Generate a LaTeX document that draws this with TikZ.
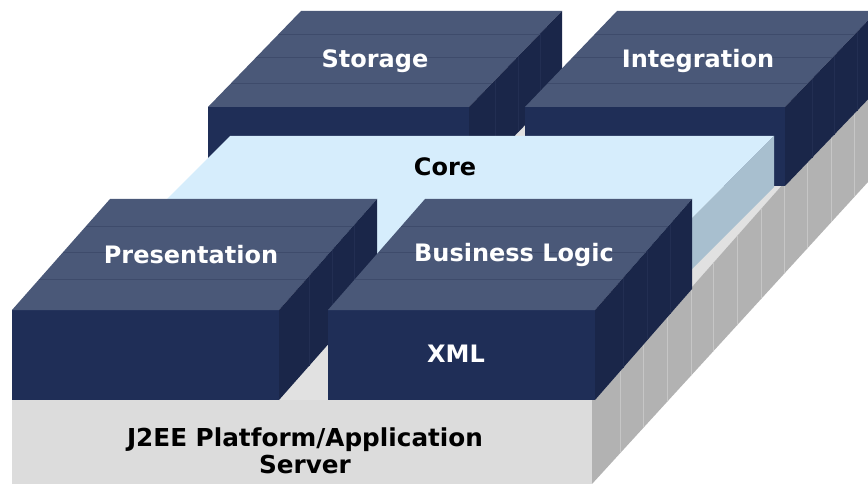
\documentclass[tikz,border=0pt]{standalone}
\usepackage{fontspec}
\setmainfont{DejaVu Sans}
\definecolor{topc}{HTML}{4A5878}
\definecolor{frontc}{HTML}{1F2E57}
\definecolor{sidec}{HTML}{1A2649}
\definecolor{toplinec}{HTML}{3E4B6B}
\definecolor{sidelinec}{HTML}{222E52}
\definecolor{coretop}{HTML}{D6EDFC}
\definecolor{coreside}{HTML}{A8BFCF}
\definecolor{basetop}{HTML}{E1E1E1}
\definecolor{basefront}{HTML}{DCDCDC}
\definecolor{baseside}{HTML}{B2B2B2}
\definecolor{baselinec}{HTML}{C6C6C6}
\tikzset{
  topline/.style={draw=toplinec, line width=0.8pt},
  sideline/.style={draw=sidelinec, line width=0.8pt},
  baseseg/.style={draw=baselinec, line width=0.8pt},
  whitelabel/.style={text=white, font=\fontsize{24}{27}\selectfont\bfseries, inner sep=0pt},
  blacklabel/.style={text=black, font=\fontsize{24}{27}\selectfont\bfseries, inner sep=0pt, align=center},
}
\newcommand\myblock[8]{%
  \fill[frontc] (#1,#3) rectangle (#2,#4);
  \fill[topc] (#1,#3) -- (#2,#3) -- ({#2+#5},{#3-#6}) -- ({#1+#5},{#3-#6}) -- cycle;
  \fill[sidec] (#2,#3) -- ({#2+#5},{#3-#6}) -- ({#2+#5},{#4-#6}) -- (#2,#4) -- cycle;
  \foreach \yy in {#7} \draw[topline] ({#1+(#3-\yy)*#5/#6},\yy) -- ({#2+(#3-\yy)*#5/#6},\yy);
  \foreach \xx in {#8} \draw[sideline] (\xx,{#3-(\xx-#2)*#6/#5}) -- (\xx,{#4-(\xx-#2)*#6/#5});
}
\begin{document}
\begin{tikzpicture}[x=1pt,y=-1pt]
\clip (0,0) rectangle (868,484);
\fill[white] (0,0) rectangle (868,484);
% base
\fill[basetop] (12,400) -- (592,400) -- (868,88) -- (288,88) -- cycle;
\fill[basefront] (12,400) rectangle (592,484);
\fill[baseside] (592,400) -- (868,88) -- (868,182) -- (592,484) -- cycle;
\begin{scope}
  \clip (592,400) -- (868,88) -- (868,182) -- (592,484) -- cycle;
  \foreach \xx in {620,643,667,691,713,737,761,784,807,831,854}
    \draw[baseseg] (\xx,0) -- (\xx,484);
\end{scope}
% back blocks
\myblock{208}{469}{107}{183}{93}{96}{34,57,83}{495,518,540}
\myblock{525}{785}{107}{186}{92}{96}{34,57,83}{812,834,857}
% core
\fill[coretop] (146,220) -- (690,220) -- (774,136) -- (230,136) -- cycle;
\fill[coretop] (146,220) rectangle (690,270);
\fill[coreside] (690,220) -- (774,136) -- (774,187) -- (690,271) -- cycle;
% front blocks
\myblock{12}{279}{310}{400}{98}{111}{279,252,226}{309,332,354}
\myblock{328}{595}{310}{400}{97}{111}{279,252,226}{623,647,670}
% labels
\node[whitelabel] (storage) at (375,61) {Storage};
\node[whitelabel] (integration) at (698,61) {Integration};
\node[blacklabel] (core) at (445,167) {Core};
\node[whitelabel] (presentation) at (191,255) {Presentation};
\node[whitelabel] (business) at (514,255) {Business Logic};
\node[whitelabel] (xml) at (456,354) {XML};
\node[blacklabel, font=\fontsize{24.7}{27}\selectfont\bfseries] (j2ee) at (305,451) {J2EE Platform/Application\\Server};
\end{tikzpicture}
\end{document}
